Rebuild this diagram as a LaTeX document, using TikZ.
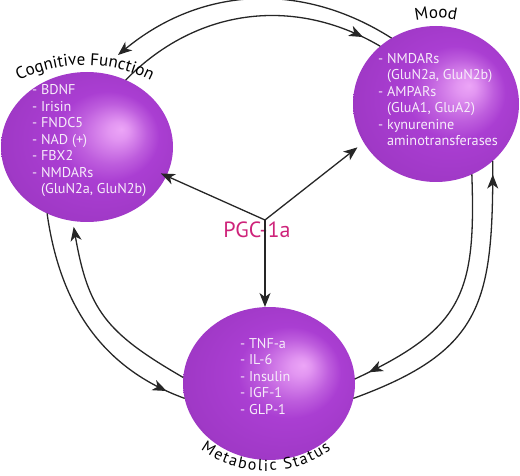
\documentclass[tikz,border=0pt]{standalone}
\usepackage{fontspec}
\setmainfont{PT Sans}
\usepackage{xcolor}
\usepackage{tikz}
\usetikzlibrary{shapes.geometric,arrows.meta,decorations.markings,decorations.text,calc}

\definecolor{sphdark}{RGB}{118,35,150}
\definecolor{sphmid}{RGB}{170,62,210}
\definecolor{sphhi}{RGB}{236,165,247}
\definecolor{pgcpink}{RGB}{206,35,122}
\definecolor{itemwhite}{RGB}{247,236,250}

\pgfdeclareradialshading{sphereshade}{\pgfpoint{10bp}{6bp}}{%
  color(0bp)=(sphhi); color(3bp)=(sphhi!85!sphmid); color(10bp)=(sphhi!30!sphmid);
  color(15bp)=(sphmid); color(27bp)=(sphmid!80!sphdark); color(37bp)=(sphdark)}

\begin{document}
\begin{tikzpicture}[x=1pt, y=1pt, >={Stealth[length=14pt,width=11pt,inset=4pt]},
    sphere/.style={ellipse, shade, shading=sphereshade, inner sep=0pt, outer sep=0pt},
    items/.style={anchor=north west, align=left, inner sep=0pt, text=itemwhite,
                  font=\fontsize{14.2}{16.5}\selectfont},
    link/.style={line width=1.3pt, draw=black!85},
    tipat/.style={postaction={decorate},
                  decoration={markings, mark=at position #1 with {\arrow{>}}}},
    bow/.style={decorate, decoration={text along path, text align=center,
                  text={|\fontsize{17}{17}\selectfont|#1}}},
    fitbow/.style={decorate, decoration={text along path, text align=fit to path,
                  text={|\fontsize{16}{16}\selectfont|#1}}}]
    \useasboundingbox (0,0) rectangle (520,-476);

    % the three spheres
    \node[sphere, minimum width=172pt, minimum height=150pt] (cog) at (87,-147) {};
    \node[sphere, minimum width=166pt, minimum height=156pt] (mood) at (436,-104) {};
    \node[sphere, minimum width=172pt, minimum height=153pt] (met) at (269,-383.5) {};

    \node[items] (cogitems) at (32,-84.5)
        {- BDNF\\- Irisin\\- FNDC5\\- NAD (+)\\- FBX2\\- NMDARs\\\hphantom{- }(GluN2a, GluN2b)};
    \node[items] (mooditems) at (378,-53)
        {- NMDARs\\\hphantom{- }(GluN2a, GluN2b)\\- AMPARs\\\hphantom{- }(GluA1, GluA2)\\- kynurenine\\\hphantom{- }aminotransferases};
    \node[items] (metitems) at (240,-338)
        {- TNF-a\\- IL-6\\- Insulin\\- IGF-1\\- GLP-1};

    % cycle arrows
    \coordinate (cogend) at (118,-55);
    \draw[link, ->] (mood.124) to[bend right=36] (cogend);
    \draw[link, tipat=0.93] (cog.60) to[bend left=38] (mood.134);
    \draw[link, tipat=0.94] (mood.-63) to[out=-88, in=25, looseness=1.3] (met.3);
    \draw[link, tipat=0.955] (met.-10) to[out=20, in=-90, looseness=1.3] (mood.-45);
    \draw[link, tipat=0.92] (cog.-121) to[out=-82, in=160] (met.190);
    \draw[link, ->, shorten >=6pt] (met.176) to[out=150, in=-80, looseness=1.2] (cog.-101);

    \path[bow={Cognitive Function}] (85,-209) ++(124:144) arc[start angle=124, end angle=56, radius=144];
    \path[bow={Mood}] (436,-104) ++(115:86) arc[start angle=115, end angle=65, radius=86];
    \path[fitbow={Metabolic Status}] (266,-360) ++(234:111) arc[start angle=234, end angle=306, radius=111];

    % PGC-1a in the middle
    \node[font=\fontsize{22}{22}\selectfont, text=pgcpink, anchor=base, inner sep=0pt] (pgc) at (257,-237) {PGC-1a};
    \coordinate (hub) at (265,-220);
    \draw[link, ->, shorten >=-6pt] (hub) -- (cog.-20);
    \draw[link, ->, shorten >=8pt] (hub) -- (mood.208);
    \draw[link, ->] (hub) -- (hub |- met.north);
\end{tikzpicture}
\end{document}
